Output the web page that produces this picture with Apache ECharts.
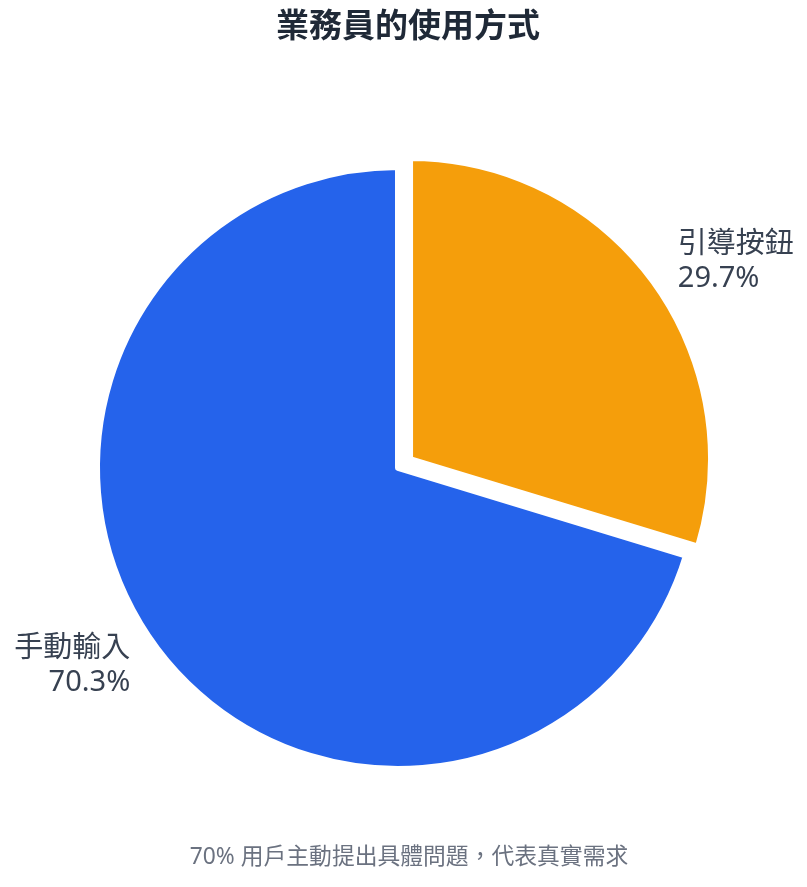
<!DOCTYPE html>
<html>
<head>
<meta charset="utf-8">
<script src="https://cdn.jsdelivr.net/npm/echarts@6/dist/echarts.min.js"></script>
<style>
html,body{margin:0;padding:0;background:#fff;}
#main{width:807px;height:887px;}
</style>
</head>
<body>
<div id="main"></div>
<script>
const titleText = '業務員的使用方式';
const footerText = '70% 用戶主動提出具體問題，代表真實需求';
const categories = ['引導按鈕', '手動輸入'];
const values = [29.7, 70.3];
const colors = ['#f59e0b', '#2563eb'];
const selectedFlags = [true, false];

const FONT = '"Noto Sans", "Noto Sans CJK TC", sans-serif';
const chart = echarts.init(document.getElementById('main'));
chart.setOption({
  backgroundColor: '#ffffff',
  animation: false,
  title: [
    {
      text: titleText,
      left: 408,
      textAlign: 'center',
      top: 11,
      padding: 0,
      textStyle: { fontFamily: FONT, fontSize: 33, fontWeight: 'bold', color: '#1f2937' }
    },
    {
      text: footerText,
      left: 409,
      textAlign: 'center',
      top: 846,
      padding: 0,
      textStyle: { fontFamily: FONT, fontSize: 22.8, fontWeight: 'normal', color: '#6b7280' }
    }
  ],
  series: [{
    type: 'pie',
    center: [398, 468],
    radius: 301,
    startAngle: 90,
    clockwise: true,
    selectedMode: 'single',
    selectedOffset: 15,
    itemStyle: { borderColor: '#ffffff', borderWidth: 6 },
    label: {
      show: true,
      position: 'outside',
      formatter: function (p) { return p.name + '\n' + p.value.toFixed(1) + '%'; },
      fontFamily: FONT,
      fontSize: 29,
      lineHeight: 34,
      color: '#374151',
      distanceToLabelLine: 0
    },
    labelLine: { show: false, length: 31, length2: 1 },
    emphasis: { disabled: true },
    data: categories.map((c, i) => ({
      name: c,
      value: values[i],
      selected: selectedFlags[i],
      itemStyle: { color: colors[i] }
    }))
  }]
});
</script>
</body>
</html>
